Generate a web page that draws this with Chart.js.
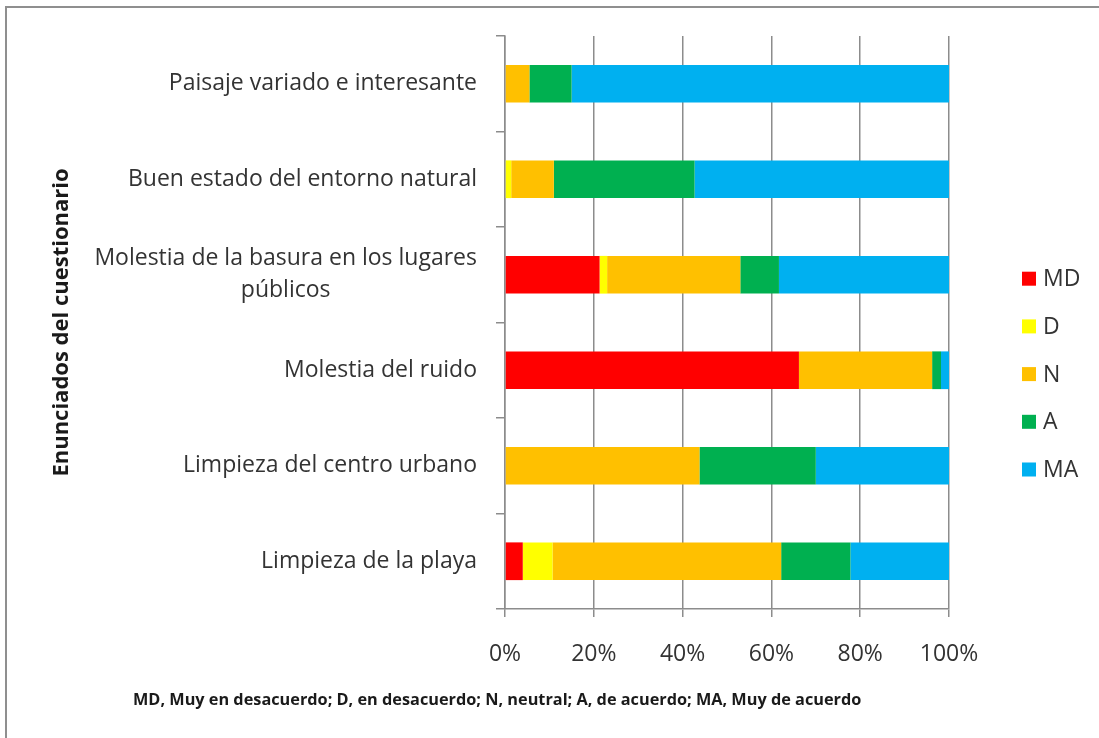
<!DOCTYPE html>
<html><head><meta charset="utf-8">
<script src="https://cdn.jsdelivr.net/npm/chart.js@4.4.1/dist/chart.umd.min.js"></script>
<style>html,body{margin:0;padding:0;background:#fff;overflow:hidden;} canvas{display:block;}</style>
</head><body>
<canvas id="c" width="1099" height="738"></canvas>
<script>
// ---- data ----
const categories = [
  ["Paisaje variado e interesante"],
  ["Buen estado del entorno natural"],
  ["Molestia de la basura en los lugares", "públicos"],
  ["Molestia del ruido"],
  ["Limpieza del centro urbano"],
  ["Limpieza de la playa"]
];
const seriesNames = ["MD", "D", "N", "A", "MA"];
const MD = [0, 0, 21.3, 66.2, 0, 4.0];
const D  = [0, 1.4, 1.7, 0, 0, 6.7];
const N  = [5.5, 9.6, 30.0, 30.0, 43.8, 51.5];
const A  = [9.5, 31.7, 8.7, 2.0, 26.2, 15.6];
const MA = [85.0, 57.3, 38.3, 1.8, 30.0, 22.2];
const xTickLabels = ["0%", "20%", "40%", "60%", "80%", "100%"];
const yTitle = "Enunciados del cuestionario";
const footnote = "MD, Muy en desacuerdo; D, en desacuerdo; N, neutral; A, de acuerdo; MA, Muy de acuerdo";

// ---- style ----
const colors = ["#FF0000", "#FFFF00", "#FFC000", "#00B050", "#00B0F0"];
const FONT = "'Open Sans', sans-serif";
const GRID = "#8c8c8c";
const TEXT = "#333333";

const customText = {
  id: 'customText',
  beforeDraw(chart) {
    const ctx = chart.ctx;
    ctx.save();
    ctx.fillStyle = '#ffffff';
    ctx.fillRect(0, 0, chart.width, chart.height);
    ctx.fillStyle = '#8f8f8f';
    ctx.fillRect(5, 6, 2, chart.height - 6);
    ctx.fillRect(5, 6, chart.width - 5, 2);
    ctx.restore();
  },
  afterDraw(chart) {
    const ctx = chart.ctx, ys = chart.scales.y, area = chart.chartArea;
    ctx.save();
    // category labels
    ctx.font = "23px " + FONT;
    ctx.fillStyle = TEXT;
    ctx.textBaseline = 'middle';
    ctx.textAlign = 'center';
    const xr = area.left - 28, lh = 32;
    chart.data.labels.forEach((lines, i) => {
      const cy = ys.getPixelForValue(i);
      const maxW = Math.max(...lines.map(l => ctx.measureText(l).width));
      const cx = xr - maxW / 2;
      lines.forEach((l, j) => ctx.fillText(l, cx, cy + (j - (lines.length - 1) / 2) * lh));
    });
    // legend
    const lx = area.right + 73, ly0 = 278.7, step = 47.7, bs = 14;
    ctx.textAlign = 'left';
    chart.data.datasets.forEach((ds, i) => {
      const cy = ly0 + i * step;
      ctx.fillStyle = ds.backgroundColor;
      ctx.fillRect(lx, cy - bs / 2, bs, bs);
      ctx.fillStyle = TEXT;
      ctx.fillText(ds.label, lx + bs + 7, cy + 1);
    });
    // footnote
    ctx.font = "bold 16.3px " + FONT;
    ctx.fillStyle = '#1a1a1a';
    ctx.fillText(footnote, 133, 700);
    ctx.restore();
  }
};

function build() {
  const seriesData = [MD, D, N, A, MA];
  new Chart(document.getElementById('c'), {
    type: 'bar',
    data: {
      labels: categories,
      datasets: seriesNames.map((n, i) => ({
        label: n,
        data: seriesData[i],
        backgroundColor: colors[i],
        borderWidth: 0,
        barPercentage: 0.395,
        categoryPercentage: 1
      }))
    },
    options: {
      indexAxis: 'y',
      responsive: false,
      animation: false,
      devicePixelRatio: 1,
      layout: { padding: { left: 40, top: 36, right: 150, bottom: 69 } },
      plugins: { legend: { display: false }, tooltip: { enabled: false } },
      scales: {
        x: {
          stacked: true, min: 0, max: 100,
          ticks: {
            stepSize: 20, maxRotation: 0, padding: 24, color: TEXT,
            font: { family: FONT, size: 23 },
            callback: (v, i) => xTickLabels[i]
          },
          grid: { color: GRID, lineWidth: 1.5, tickLength: 8, drawTicks: true },
          border: { color: GRID, width: 1.5 },
          afterFit(s) { s.height = 60; }
        },
        y: {
          stacked: true,
          ticks: { display: false },
          grid: { color: GRID, lineWidth: 1.5, drawOnChartArea: false, tickLength: 9, offset: true },
          border: { color: GRID, width: 1.5 },
          title: {
            display: true, text: yTitle, color: '#1a1a1a',
            font: { family: FONT, size: 22, weight: 'bold' },
            padding: { top: 9, bottom: 0 }
          },
          afterFit(s) { s.width = 465; }
        }
      }
    },
    plugins: [customText]
  });
}
if (document.fonts && document.fonts.load) {
  Promise.all([
    document.fonts.load("23px 'Open Sans'"),
    document.fonts.load("bold 22px 'Open Sans'")
  ]).then(build, build);
} else { build(); }
</script>
</body></html>
